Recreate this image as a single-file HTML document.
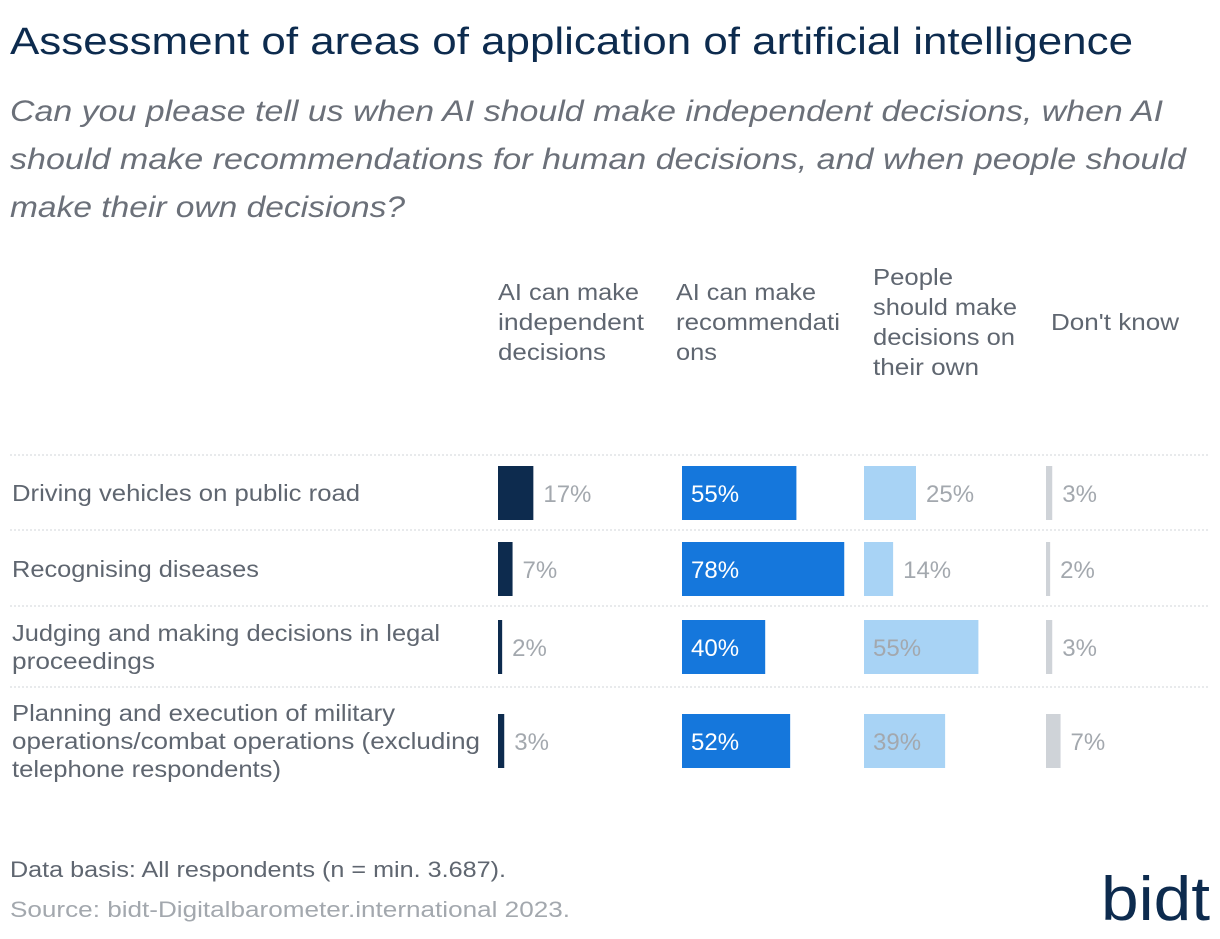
<!DOCTYPE html>
<html><head><meta charset="utf-8"><style>
body{margin:0;background:#fff;width:1220px;height:934px;overflow:hidden;font-family:"Liberation Sans",sans-serif;}
svg text{font-family:"Liberation Sans",sans-serif;}
</style></head><body>
<svg id="chart" width="1220" height="934">
<text x="10" y="54" font-size="38" fill="#0d2b4e" textLength="1123" lengthAdjust="spacingAndGlyphs">Assessment of areas of application of artificial intelligence</text>
<g font-size="30" font-style="italic" fill="#6b7079">
<text x="10" y="121" textLength="1153" lengthAdjust="spacingAndGlyphs">Can you please tell us when AI should make independent decisions, when AI</text>
<text x="10" y="169" textLength="1176" lengthAdjust="spacingAndGlyphs">should make recommendations for human decisions, and when people should</text>
<text x="10" y="217" textLength="395" lengthAdjust="spacingAndGlyphs">make their own decisions?</text>
</g>
<g id="headers" font-size="23" fill="#5f6670"></g>
<g id="rows"></g>
<text x="10" y="877" font-size="22" fill="#5f6670" textLength="496" lengthAdjust="spacingAndGlyphs">Data basis: All respondents (n = min. 3.687).</text>
<text x="10" y="917" font-size="22" fill="#a3a8ae" textLength="560" lengthAdjust="spacingAndGlyphs">Source: bidt-Digitalbarometer.international 2023.</text>
<text x="1101" y="920" font-size="62" fill="#0d2b4e" textLength="109" lengthAdjust="spacingAndGlyphs">bidt</text>
</svg>
<script>
const categories=[["Driving vehicles on public road"],["Recognising diseases"],["Judging and making decisions in legal","proceedings"],["Planning and execution of military","operations/combat operations (excluding","telephone respondents)"]];
const seriesNames=[["AI can make","independent","decisions"],["AI can make","recommendati","ons"],["People","should make","decisions on","their own"],["Don't know"]];
const aiIndependent=[17,7,2,3];
const aiRecommend=[55,78,40,52];
const peopleDecide=[25,14,55,39];
const dontKnow=[3,2,3,7];
const series=[aiIndependent,aiRecommend,peopleDecide,dontKnow];
const catLens=[[348],[247],[428,143],[383,468,269]];
const headLens=[[141,146,108],[140,164,41],[80,144,142,106],[128]];
const colStart=[498,682,864,1046];
const headX=[498,676,873,1051];
const colors=["#0d2b4e","#1577dc","#a8d3f5","#cfd3d8"];
const scale=v=>v*2.08;
const rowTop=[466,542,620,714];
const sepY=[455,530,606,687];
const barH=54;
const NS="http://www.w3.org/2000/svg";
const hg=document.getElementById('headers');
seriesNames.forEach((lines,i)=>{
  const start=322-(lines.length-1)*15;
  lines.forEach((l,j)=>{
    const t=document.createElementNS(NS,'text');
    
    
    t.setAttribute('x',headX[i]);t.setAttribute('y',start+j*30+8);
    t.setAttribute('textLength',headLens[i][j]);t.setAttribute('lengthAdjust','spacingAndGlyphs');
    t.textContent=l;hg.appendChild(t);
  });
});
const rg=document.getElementById('rows');
categories.forEach((lines,r)=>{
  const ln=document.createElementNS(NS,'line');
  
  
  ln.setAttribute('x1',10);ln.setAttribute('x2',1210);ln.setAttribute('y1',sepY[r]);ln.setAttribute('y2',sepY[r]);
  ln.setAttribute('stroke','#d2d5d9');ln.setAttribute('stroke-dasharray','2,2');rg.appendChild(ln);
  const cy=rowTop[r]+barH/2;
  const s0=cy-(lines.length-1)*14;
  lines.forEach((l,j)=>{
    const t=document.createElementNS(NS,'text');
    
    
    t.setAttribute('x',12);t.setAttribute('y',s0+j*28+8);
    t.setAttribute('font-size','23');t.setAttribute('fill','#5f6670');
    t.setAttribute('textLength',catLens[r][j]);t.setAttribute('lengthAdjust','spacingAndGlyphs');
    t.textContent=l;rg.appendChild(t);
  });
  series.forEach((arr,i)=>{
    const v=arr[r];const w=Math.max(4,scale(v));
    const b=document.createElementNS(NS,'rect');
    
    
    b.setAttribute('x',colStart[i]);b.setAttribute('y',rowTop[r]);b.setAttribute('width',w);b.setAttribute('height',barH);
    b.setAttribute('fill',colors[i]);rg.appendChild(b);
    const t=document.createElementNS(NS,'text');
    
    
    let inside=(i==1)||(i==2&&w>70);
    t.setAttribute('x',inside?colStart[i]+9:colStart[i]+w+10);
    t.setAttribute('y',cy+9);t.setAttribute('font-size','24');
    t.setAttribute('fill',i==1?'#ffffff':'#a3a8ae');
    t.textContent=v+'%';rg.appendChild(t);
  });
});
</script>
</body></html>
